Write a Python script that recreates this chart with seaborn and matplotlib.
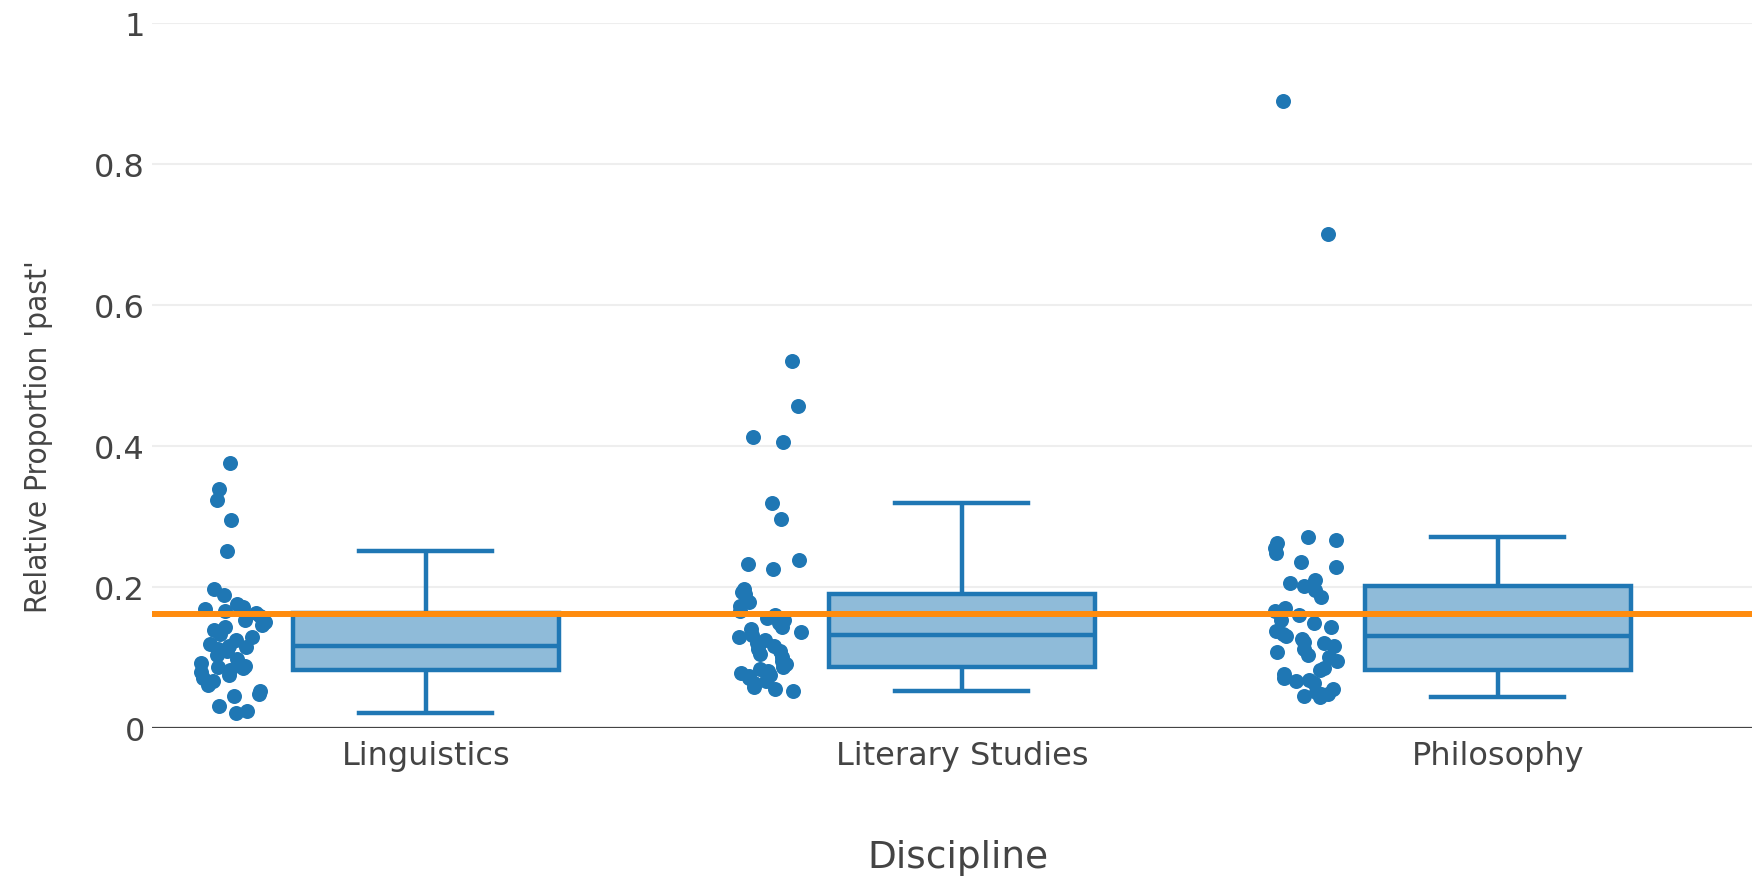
import numpy as np
import pandas as pd
import seaborn as sns
import matplotlib.pyplot as plt

disciplines = ['Linguistics', 'Literary Studies', 'Philosophy']

linguistics = [0.021, 0.023, 0.030, 0.045, 0.048, 0.052, 0.060, 0.066, 0.070, 0.075,
               0.079, 0.082, 0.084, 0.086, 0.088, 0.089, 0.092, 0.098, 0.103, 0.108,
               0.111, 0.114, 0.116, 0.119, 0.124, 0.128, 0.133, 0.138, 0.142, 0.146,
               0.150, 0.153, 0.158, 0.163, 0.165, 0.168, 0.171, 0.175, 0.188, 0.197,
               0.250, 0.295, 0.323, 0.339, 0.375]
literary = [0.052, 0.055, 0.058, 0.063, 0.066, 0.070, 0.073, 0.075, 0.077, 0.080,
            0.083, 0.086, 0.090, 0.095, 0.100, 0.104, 0.108, 0.112, 0.116, 0.120,
            0.124, 0.128, 0.131, 0.135, 0.140, 0.143, 0.148, 0.152, 0.155, 0.160,
            0.165, 0.172, 0.178, 0.190, 0.192, 0.196, 0.225, 0.232, 0.237, 0.296,
            0.318, 0.405, 0.412, 0.456, 0.520]
philosophy = [0.043, 0.045, 0.047, 0.048, 0.050, 0.055, 0.063, 0.066, 0.068, 0.071,
              0.076, 0.081, 0.085, 0.094, 0.100, 0.103, 0.107, 0.112, 0.116, 0.120,
              0.122, 0.126, 0.130, 0.133, 0.137, 0.142, 0.148, 0.153, 0.160, 0.165,
              0.170, 0.185, 0.195, 0.201, 0.205, 0.209, 0.228, 0.235, 0.248, 0.255,
              0.262, 0.266, 0.271, 0.700, 0.888]
reference_value = 0.1617

y_ticks = [0, 0.2, 0.4, 0.6, 0.8, 1.0]
y_ticklabels = ['0', '0.2', '0.4', '0.6', '0.8', '1']

df = pd.DataFrame({
    'Discipline': (['Linguistics'] * len(linguistics) + ['Literary Studies'] * len(literary)
                   + ['Philosophy'] * len(philosophy)),
    'value': linguistics + literary + philosophy,
})

blue = '#1f77b4'
plt.rcParams['font.family'] = ['DejaVu Sans']

fig = plt.figure(figsize=(17.52, 8.79), dpi=100)
ax = fig.add_axes([152 / 1752, 1 - 728.6 / 879, 1 - 152 / 1752, 705.1 / 879])

sns.boxplot(data=df, x='Discipline', y='value', order=disciplines, ax=ax,
            width=0.496, color=blue, linecolor=blue, linewidth=3.2,
            showfliers=False, whis=1.5,
            boxprops=dict(facecolor='#8fbbd9', edgecolor=blue),
            zorder=3)

np.random.seed(3)
n_before = len(ax.collections)
sns.stripplot(data=df, x='Discipline', y='value', order=disciplines, ax=ax,
              color=blue, size=10.8, jitter=0.063, linewidth=0, zorder=5)
# shift the points to the left of each box (plotly-style pointpos)
for coll in ax.collections[n_before:]:
    off = coll.get_offsets()
    coll.set_offsets(off + np.array([-0.36, 0]))

ax.axhline(reference_value, color='#ff8c0e', lw=4.3, zorder=6)
ax.axhline(0, color='#444444', lw=1.6, zorder=7)

ax.set_xlim(-0.511, 2.474)
ax.set_ylim(0, 1.0)
ax.set_yticks(y_ticks)
ax.set_yticklabels(y_ticklabels)
ax.grid(axis='y', color='#eeeeee', lw=1.5, zorder=0)
ax.set_axisbelow(True)
for s in ax.spines.values():
    s.set_visible(False)
ax.tick_params(axis='both', length=0, labelsize=23, colors='#444444')
ax.tick_params(axis='x', pad=9)
ax.tick_params(axis='y', pad=5)

ax.set_xlabel('Discipline', fontsize=27, color='#444444')
ax.set_ylabel("Relative Proportion 'past'", fontsize=22.6, color='#444444',
              fontstretch='condensed')
ax.xaxis.set_label_coords(0.504, -0.158)
ax.yaxis.set_label_coords(-0.062, 0.4136)

fig.savefig('out.png', dpi=100)
